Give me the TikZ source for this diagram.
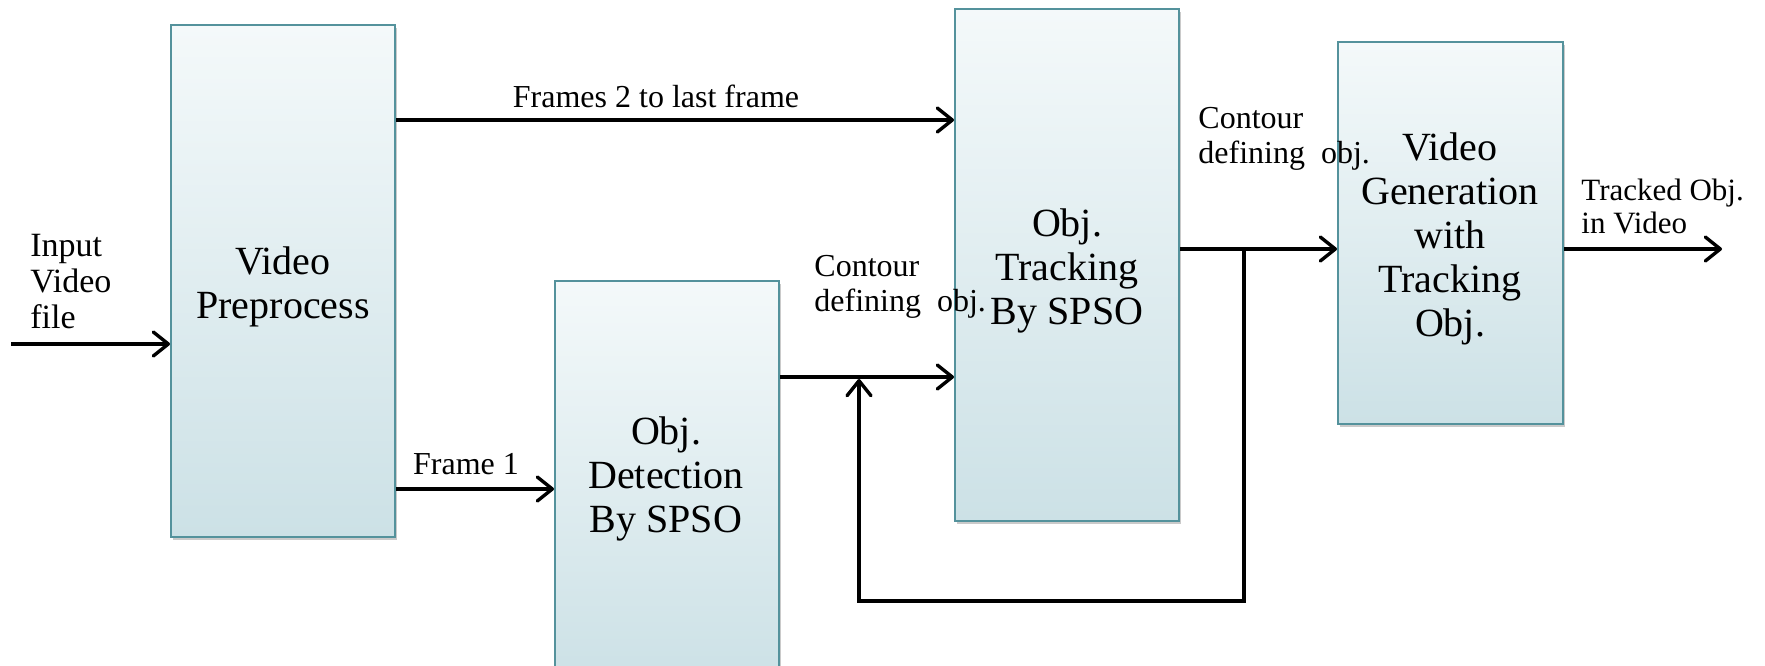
\documentclass[tikz,border=0pt]{standalone}
\usepackage{fontspec}
\setmainfont{Liberation Serif}
\usetikzlibrary{arrows.meta,fit,shadows}
\definecolor{boxline}{RGB}{84,146,156}
\definecolor{boxtop}{RGB}{244,249,250}
\definecolor{boxbot}{RGB}{204,225,230}
\tikzset{
  blk/.style={draw=boxline, line width=1pt, inner sep=0pt, top color=boxtop, bottom color=boxbot,
    drop shadow={shadow xshift=1.2pt, shadow yshift=-1.5pt, opacity=0.35, fill=black!60}},
  blktext/.style={align=center, font=\fontsize{20}{22}\selectfont},
  lbl/.style={align=left, inner sep=0pt, font=\fontsize{16}{17.5}\selectfont},
  arr/.style={line width=1.7pt, -{Straight Barb[length=7.5pt,width=12pt,line width=1.7pt,round]}},
}
\begin{document}
\begin{tikzpicture}[x=0.5pt,y=-0.5pt]
\useasboundingbox (0,0) rectangle (1765,665);

% processing blocks
\node[blk, fit={(171,25) (395,537)}] (b1) {};
\node[blk, fit={(555,281) (779,680)}] (b2) {};
\node[blk, fit={(955,9) (1179,521)}] (b3) {};
\node[blk, fit={(1338,42) (1563,424)}] (b4) {};

% block captions
\node[blktext] (t1) at (283,287) {Video\\Preprocess};
\node[blktext] (t2) at (666,479) {Obj.\\Detection\\By SPSO};
\node[blktext] (t3) at (1067,271) {Obj.\\Tracking\\By SPSO};
\node[blktext] (t4) at (1450,239) {Video\\Generation\\with\\Tracking\\Obj.};

% signal levels
\coordinate (in)  at (11,344);
\coordinate (f2)  at (0,120);
\coordinate (f1)  at (0,489);
\coordinate (det) at (0,377);
\coordinate (gen) at (0,249);
\coordinate (out) at (1722,249);
\coordinate (jn)  at (1244,249);
\coordinate (fbr) at (1244,601);
\coordinate (fbl) at (859,601);
\coordinate (fbt) at (859,379);

% connectors
\draw[arr] (in) -- (in -| b1.west);
\draw[arr] (f2 -| b1.east) -- (f2 -| b3.west);
\draw[arr] (f1 -| b1.east) -- (f1 -| b2.west);
\draw[arr] (det -| b2.east) -- (det -| b3.west);
\draw[arr] (gen -| b3.east) -- (gen -| b4.west);
\draw[arr] (gen -| b4.east) -- (out);
\draw[arr, line join=miter] (jn) -- (fbr) -- (fbl) -- (fbt);

% connector labels
\node[lbl, anchor=west, font=\fontsize{17}{18}\selectfont] (l1) at (30,282) {Input\\Video\\file};
\node[lbl] (l2) at (656,96) {Frames 2 to last frame};
\node[lbl] (l3) at (466,464) {Frame 1};
\node[lbl, anchor=west] (l4) at (814,287) {Contour\\defining~~obj.};
\node[lbl, anchor=west] (l5) at (1198,139) {Contour\\defining~~obj.};
\node[lbl, anchor=west, font=\fontsize{15.5}{16.5}\selectfont] (l6) at (1581,206) {Tracked Obj.\\in Video};
\end{tikzpicture}
\end{document}
